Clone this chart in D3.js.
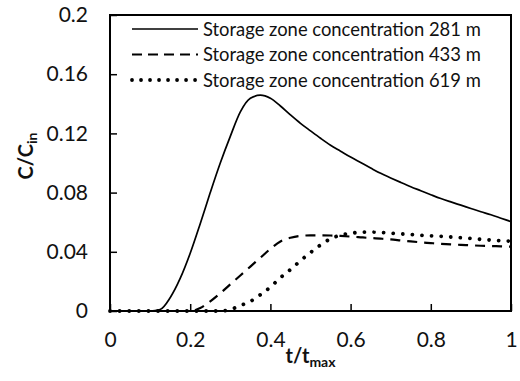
<!DOCTYPE html>
<html>
<head>
<meta charset="utf-8">
<script src="https://cdn.jsdelivr.net/npm/d3@7/dist/d3.min.js"></script>
<style>
  html, body { margin: 0; padding: 0; background: #fff; }
  svg { display: block; font-family: Lato, "Open Sans", sans-serif; }
</style>
</head>
<body>
<svg id="chart" width="520" height="381"></svg>
<script>
// Normalised time t/tmax shared by all three series
const tValues = [0, 0.05, 0.1, 0.125, 0.15, 0.175, 0.2, 0.225, 0.25, 0.275, 0.3,
  0.325, 0.35, 0.375, 0.4, 0.425, 0.45, 0.475, 0.5, 0.525, 0.55, 0.575, 0.6,
  0.625, 0.65, 0.675, 0.7, 0.725, 0.75, 0.775, 0.8, 0.825, 0.85, 0.875, 0.9,
  0.925, 0.95, 0.975, 1.0];

// Storage zone concentration C/Cin at 281 m, 433 m and 619 m
const conc281 = [0, 0, 0, 0.001, 0.009, 0.022, 0.039, 0.059, 0.080, 0.100, 0.118,
  0.1345, 0.1437, 0.1458, 0.1437, 0.1385, 0.1325, 0.1268, 0.1217, 0.1167, 0.112,
  0.108, 0.104, 0.1003, 0.0966, 0.093, 0.0899, 0.0869, 0.084, 0.0813, 0.0786,
  0.076, 0.0737, 0.0715, 0.0693, 0.0671, 0.065, 0.0627, 0.0604];

const conc433 = [0, 0, 0, 0, 0, 0, 0, 0.002, 0.0065, 0.012, 0.018,
  0.024, 0.030, 0.036, 0.042, 0.047, 0.0495, 0.0508, 0.0511, 0.0511, 0.051,
  0.0507, 0.0503, 0.0498, 0.0493, 0.0489, 0.0484, 0.0477, 0.047, 0.0464, 0.0459,
  0.0454, 0.045, 0.0447, 0.0444, 0.0441, 0.0439, 0.0437, 0.0435];

const conc619 = [0, 0, 0, 0, 0, 0, 0, 0, 0, 0, 0.001,
  0.0037, 0.0065, 0.011, 0.0162, 0.0225, 0.028, 0.034, 0.0395, 0.0446, 0.0488,
  0.0512, 0.0525, 0.0532, 0.0534, 0.0531, 0.0526, 0.0521, 0.0517, 0.0512, 0.0508,
  0.0505, 0.05, 0.0495, 0.049, 0.0484, 0.0479, 0.0475, 0.0472];

const seriesNames = ["Storage zone concentration 281 m",
                     "Storage zone concentration 433 m",
                     "Storage zone concentration 619 m"];

const xTicks = [0, 0.2, 0.4, 0.6, 0.8, 1];
const xTickLabels = ["0", "0.2", "0.4", "0.6", "0.8", "1"];
const yTicks = [0, 0.04, 0.08, 0.12, 0.16, 0.2];
const yTickLabels = ["0", "0.04", "0.08", "0.12", "0.16", "0.2"];

// Line styles for each series (plot and legend dash patterns)
const styles = [
  { width: 1.7, dash: null, legendDash: null, cap: "butt" },
  { width: 2.2, dash: "10,7", legendDash: "10,6", cap: "butt" },
  { width: 3.8, dash: "0.01,9.6", legendDash: "0.01,9", cap: "round" }
];

const svg = d3.select("#chart");
const plot = { left: 110, top: 15, right: 511, bottom: 311 };

const x = d3.scaleLinear().domain([0, 1]).range([plot.left, plot.right]);
const y = d3.scaleLinear().domain([0, 0.2]).range([plot.bottom, plot.top]);

const line = d3.line()
  .x(d => x(d[0]))
  .y(d => y(d[1]))
  .curve(d3.curveMonotoneX);

const allSeries = [conc281, conc433, conc619].map(vals => tValues.map((t, i) => [t, vals[i]]));

// Curves
const curves = svg.append("g");
allSeries.forEach((pts, i) => {
  curves.append("path")
    .datum(pts)
    .attr("d", line)
    .attr("fill", "none")
    .attr("stroke", "#000")
    .attr("stroke-width", styles[i].width)
    .attr("stroke-linecap", styles[i].cap)
    .attr("stroke-dasharray", styles[i].dash);
});

// Axes with inward ticks
const xAxis = d3.axisBottom(x)
  .tickValues(xTicks)
  .tickFormat((d, i) => xTickLabels[i])
  .tickSizeInner(-7).tickSizeOuter(0).tickPadding(21);
const yAxis = d3.axisLeft(y)
  .tickValues(yTicks)
  .tickFormat((d, i) => yTickLabels[i])
  .tickSizeInner(-7).tickSizeOuter(0).tickPadding(22);

const gx = svg.append("g").attr("transform", `translate(0,${plot.bottom})`).call(xAxis);
const gy = svg.append("g").attr("transform", `translate(${plot.left},0)`).call(yAxis);

[gx, gy].forEach(g => {
  g.select(".domain").remove();
  g.selectAll(".tick line").attr("stroke", "#000").attr("stroke-width", 1.5);
  g.selectAll(".tick text")
    .attr("fill", "#111")
    .style("font-family", "Lato, sans-serif")
    .style("font-size", "21px");
});

// Plot frame
svg.append("rect")
  .attr("x", plot.left).attr("y", plot.top)
  .attr("width", plot.right - plot.left).attr("height", plot.bottom - plot.top)
  .attr("fill", "none").attr("stroke", "#000").attr("stroke-width", 2);

// Axis titles
const yTitle = svg.append("text")
  .attr("transform", "translate(33,156) rotate(-90)")
  .attr("text-anchor", "middle")
  .style("font-weight", "bold").style("font-size", "20px").attr("fill", "#111");
yTitle.append("tspan").text("C/C");
yTitle.append("tspan").attr("dy", "0.3em").style("font-size", "14px").text("in");

const xTitle = svg.append("text")
  .attr("transform", `translate(${(plot.left + plot.right) / 2},363)`)
  .attr("text-anchor", "middle")
  .style("font-weight", "bold").style("font-size", "20px").attr("fill", "#111");
xTitle.append("tspan").text("t/t");
xTitle.append("tspan").attr("dy", "0.3em").style("font-size", "14px").text("max");

// Legend
const legendRows = [29, 54.5, 80];
const legend = svg.append("g");
seriesNames.forEach((name, i) => {
  const row = legend.append("g").attr("transform", `translate(0,${legendRows[i]})`);
  row.append("line")
    .attr("x1", 132).attr("x2", 198).attr("y1", 0).attr("y2", 0)
    .attr("stroke", "#000")
    .attr("stroke-width", styles[i].width)
    .attr("stroke-linecap", styles[i].cap)
    .attr("stroke-dasharray", styles[i].legendDash);
  row.append("text")
    .attr("x", 203).attr("dy", "0.36em")
    .style("font-size", "18.4px").attr("fill", "#111")
    .text(name);
});
</script>
</body>
</html>
